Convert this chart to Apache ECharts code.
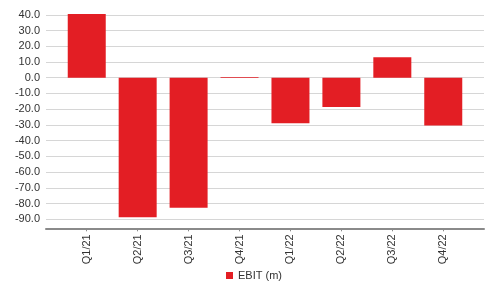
<!DOCTYPE html>
<html>
<head>
<meta charset="utf-8">
<script src="https://cdn.jsdelivr.net/npm/echarts@6/dist/echarts.min.js"></script>
<style>html,body{margin:0;padding:0;background:#fff}#c{width:492px;height:288px}</style>
</head>
<body>
<div id="c"></div>
<script>
var categories = ['Q1/21','Q2/21','Q3/21','Q4/21','Q1/22','Q2/22','Q3/22','Q4/22'];
var ebit = [40.5, -88.7, -82.6, 0.4, -29.0, -18.6, 13.0, -30.3];
var seriesName = 'EBIT (m)';
var yMin = -90, yMax = 40, yStep = 10;

var positions = categories.map(function (c, i) { return i; });
var chart = echarts.init(document.getElementById('c'), null, {renderer: 'canvas'});
chart.setOption({
  animation: false,
  textStyle: {fontFamily: 'Liberation Sans, Arial, sans-serif'},
  grid: {left: 46, right: 8, top: 14.8, bottom: 68.7, containLabel: false},
  legend: {
    data: [seriesName], left: 221, top: 265, icon: 'rect',
    itemWidth: 7, itemHeight: 7, itemGap: 4,
    textStyle: {fontSize: 11, color: '#333', fontFamily: 'Liberation Sans, Arial, sans-serif'}
  },
  xAxis: {
    type: 'value', min: -0.8, max: 7.8, offset: 9,
    axisLine: {show: true, onZero: false, lineStyle: {color: '#8a8a8a', width: 2}},
    axisTick: {show: true, customValues: positions, length: 3, lineStyle: {color: '#8a8a8a'}},
    axisLabel: {
      customValues: positions, rotate: 90, margin: 6, fontSize: 11, color: '#333',
      formatter: function (v) { return categories[Math.round(v)]; }
    },
    splitLine: {show: false}
  },
  yAxis: {
    type: 'value', min: yMin, max: yMax, interval: yStep,
    axisLine: {show: false}, axisTick: {show: false},
    axisLabel: {fontSize: 11, color: '#333', margin: 6, formatter: function (v) { return v.toFixed(1); }},
    splitLine: {lineStyle: {color: '#d6d6d6', width: 1}}
  },
  series: [{
    name: seriesName, type: 'bar', barWidth: 38, clip: false,
    itemStyle: {color: '#e31e24'},
    data: ebit.map(function (v, i) { return [positions[i], v]; })
  }]
});
</script>
</body>
</html>
